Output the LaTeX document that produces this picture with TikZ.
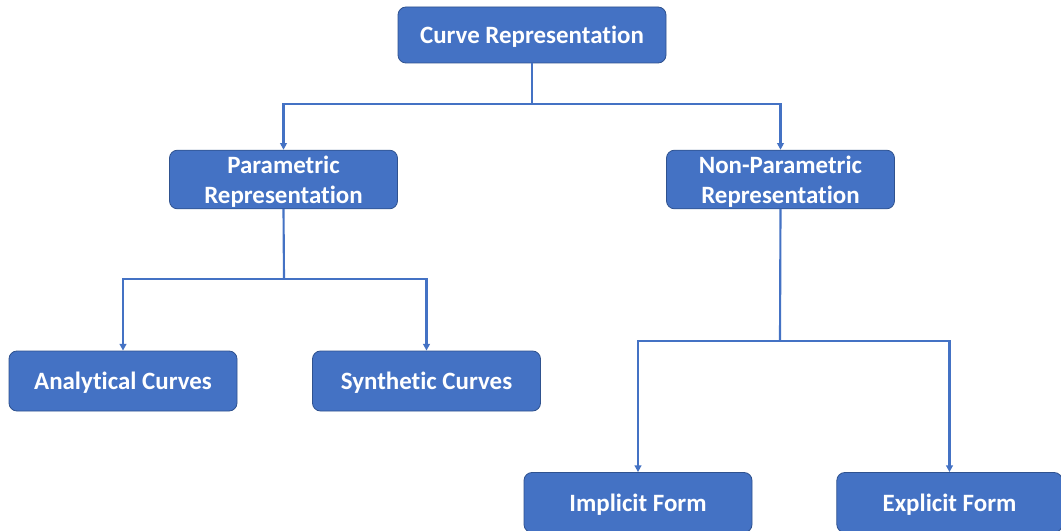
\documentclass[tikz,border=0pt]{standalone}
\usepackage{fontspec}
\setmainfont[Ligatures={NoCommon}]{Carlito}
\usetikzlibrary{arrows.meta}
\definecolor{boxfill}{HTML}{4472C4}
\definecolor{boxline}{HTML}{2F528F}
\definecolor{conn}{HTML}{4472C4}
\begin{document}
\begin{tikzpicture}[x=0.75pt,y=-0.75pt,
  box/.style={draw=boxline, line width=0.6pt, fill=boxfill, rounded corners=6pt,
    text=white, font=\fontsize{18.7}{22.5}\selectfont\bfseries, align=center,
    minimum width=171pt, minimum height=44pt, inner sep=0pt, text depth=0pt},
  conn/.style={draw=conn, line width=1.6pt},
  arr/.style={conn, -{Triangle[length=5pt,width=5pt]}}]
\clip (0,0) rectangle (1061,531);
\fill[white] (0,0) rectangle (1061,531);
\node[box, minimum width=201pt, minimum height=42pt] (root) at (532,35) {Curve Representation};
\node[box] (par) at (283.5,179.5) {Parametric\\Representation};
\node[box] (npar) at (780.5,179.5) {Non-Parametric\\Representation};
\node[box, minimum height=45pt] (ana) at (123,381) {Analytical Curves};
\node[box, minimum height=45pt] (syn) at (426.5,381) {Synthetic Curves};
\node[box, minimum height=45pt] (imp) at (638,502.5) {Implicit Form};
\node[box, minimum width=169pt, minimum height=45pt] (exp) at (949.5,502.5) {Explicit Form};
\coordinate (j1) at (532,104);
\coordinate (j2) at (284,279);
\coordinate (j3) at (780,341);
\draw[conn] (root.south) -- (j1);
\draw[arr] (j1) -| (par.north);
\draw[arr] (j1) -| (npar.north);
\draw[conn] (par.south) -- (j2);
\draw[arr] (j2) -| (ana.north);
\draw[arr] (j2) -| (syn.north);
\draw[conn] (npar.south) -- (j3);
\draw[arr] (j3) -| (imp.north);
\draw[arr] (j3) -| (exp.north);
\end{tikzpicture}
\end{document}
